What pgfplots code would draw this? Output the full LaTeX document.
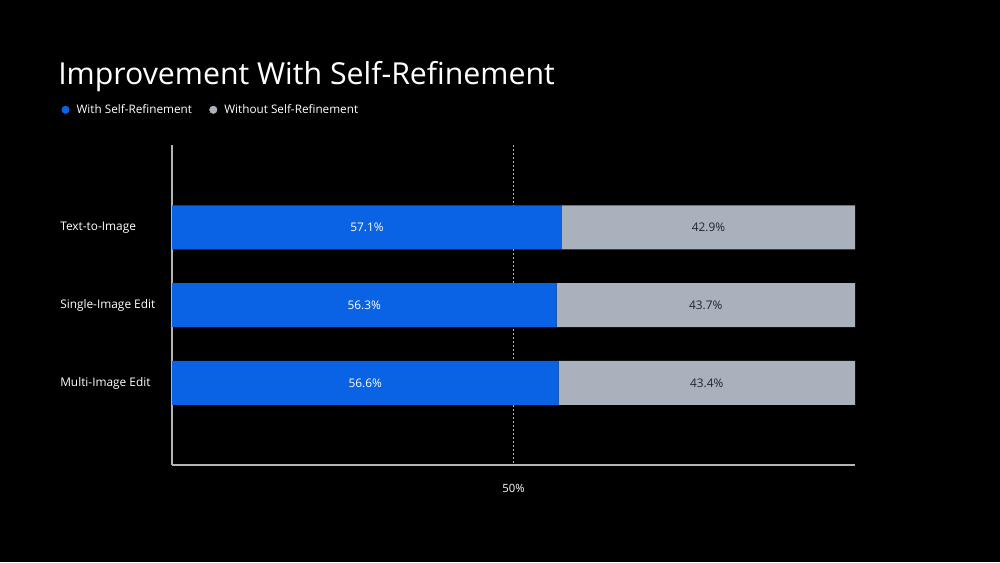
\documentclass[border=0pt]{standalone}
\usepackage{pgfplots}
\pgfplotsset{compat=1.18}
\usepackage{fontspec}
\setmainfont{Open Sans}
\definecolor{barblue}{HTML}{0A63E4}
\definecolor{bargray}{HTML}{A9B2BC}
\definecolor{axgray}{HTML}{B4B4B4}
\definecolor{darktext}{HTML}{1E2630}
\begin{document}
\begin{tikzpicture}
\fill[black] (0pt,0pt) rectangle (750pt,421.5pt);
\node[anchor=base west, inner sep=0, text=white, font=\fontsize{22.7}{26}\selectfont] at (43.5pt,358pt) {Improvement With Self-Refinement};
\begin{axis}[
  at={(129pt,72.75pt)}, anchor=south west,
  width=512.25pt, height=240pt, scale only axis,
  xmin=0, xmax=100, ymin=-1.061, ymax=3.055,
  y dir=reverse,
  xbar stacked, bar width=33pt,
  axis x line*=bottom, axis y line*=left,
  axis line style={axgray, line width=1pt, -},
  xtick=\empty,
  extra x ticks={50}, extra x tick labels={50\%},
  extra x tick style={grid=major, major grid style={axgray, dash pattern=on 1.5pt off 1.5pt, line width=0.6pt}, tick label style={text=white, font=\fontsize{8.5}{10}\selectfont, yshift=-11pt}},
  ytick={0,1,2}, yticklabels={Text-to-Image, Single-Image Edit, Multi-Image Edit},
  yticklabel style={anchor=west, inner sep=0pt, xshift=-84pt, text=white, font=\fontsize{8.9}{10}\selectfont},
  major tick length=0pt,
  legend style={at={(-0.168,1.110)}, anchor=west, draw=none, fill=none, text=white, font=\fontsize{8.8}{10}\selectfont, legend columns=2, column sep=4.3pt, nodes={inner sep=1pt}, /tikz/every even column/.append style={column sep=12pt}},
  legend cell align=left,
  legend image code/.code={\fill[#1] (0pt,0pt) circle (2.8pt);},
  clip=false,
]
\addlegendimage{barblue}
\addlegendentry{With Self-Refinement}
\addlegendimage{bargray}
\addlegendentry{Without Self-Refinement}
\addplot[fill=barblue, draw=none, forget plot] coordinates {(57.1,0) (56.3,1) (56.6,2)};
\addplot[fill=bargray, draw=none, forget plot] coordinates {(42.9,0) (43.7,1) (43.4,2)};
\coordinate (a0) at (axis cs:28.55,0);
\coordinate (a1) at (axis cs:28.15,1);
\coordinate (a2) at (axis cs:28.3,2);
\coordinate (b0) at (axis cs:78.55,0);
\coordinate (b1) at (axis cs:78.15,1);
\coordinate (b2) at (axis cs:78.3,2);
\end{axis}
\begin{scope}[every node/.style={font=\fontsize{8.9}{10}\selectfont}]
\node[text=white] at (a0) {57.1\%};
\node[text=white] at (a1) {56.3\%};
\node[text=white] at (a2) {56.6\%};
\node[text=darktext] at (b0) {42.9\%};
\node[text=darktext] at (b1) {43.7\%};
\node[text=darktext] at (b2) {43.4\%};
\end{scope}
\end{tikzpicture}
\end{document}
